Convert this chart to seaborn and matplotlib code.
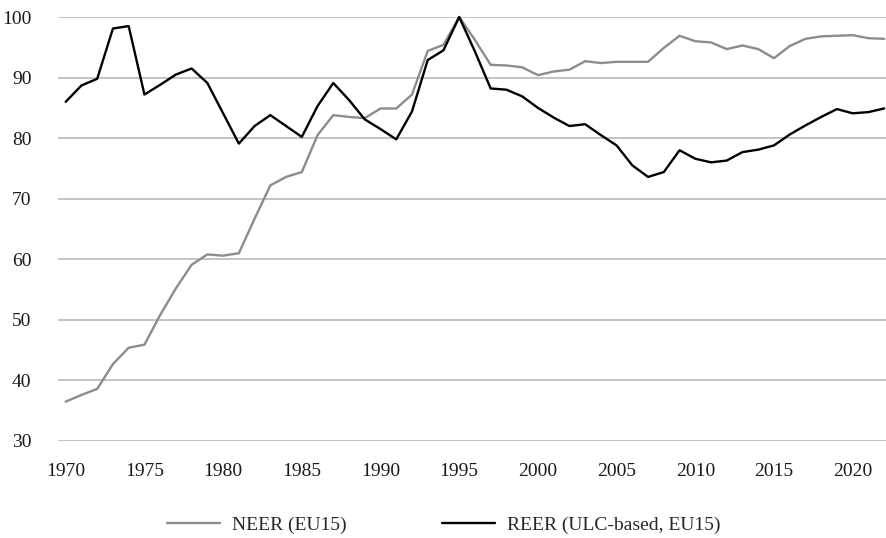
import numpy as np
import pandas as pd
import seaborn as sns
import matplotlib.pyplot as plt

years = list(range(1970, 2023))

neer = [36.5, 37.6, 38.6, 42.7, 45.4, 45.9, 50.8, 55.2, 59.1, 60.8,
        60.6, 61.0, 66.7, 72.2, 73.6, 74.4, 80.5, 83.8, 83.5, 83.3,
        84.9, 84.9, 87.2, 94.4, 95.4, 100.0, 96.2, 92.1, 92.0, 91.7,
        90.4, 91.0, 91.3, 92.7, 92.4, 92.6, 92.6, 92.6, 94.9, 96.9,
        96.0, 95.8, 94.7, 95.3, 94.7, 93.2, 95.2, 96.4, 96.8, 96.9,
        97.0, 96.5, 96.4]

reer = [86.0, 88.7, 89.8, 98.1, 98.5, 87.2, 88.8, 90.5, 91.5, 89.1,
        84.1, 79.1, 82.0, 83.8, 82.0, 80.2, 85.3, 89.1, 86.3, 83.1,
        81.5, 79.8, 84.4, 92.9, 94.5, 100.0, 94.3, 88.2, 88.0, 86.9,
        85.0, 83.4, 82.0, 82.3, 80.5, 78.8, 75.5, 73.6, 74.4, 78.0,
        76.6, 76.0, 76.3, 77.7, 78.1, 78.8, 80.6, 82.1, 83.5, 84.8,
        84.1, 84.3, 84.9]

series_names = ["NEER (EU15)", "REER (ULC-based, EU15)"]
series_colors = ["#8c8c8c", "#000000"]

df = pd.DataFrame({
    "year": years * 2,
    "value": neer + reer,
    "series": [series_names[0]] * len(years) + [series_names[1]] * len(years),
})

sns.set_style("white")
plt.rcParams['font.family'] = ['Liberation Serif', 'DejaVu Serif']

fig = plt.figure(figsize=(8.87, 5.38), dpi=100)
ax = fig.add_axes([0.0654, 0.1803, 0.9346, 0.7881])

sns.lineplot(data=df, x="year", y="value", hue="series",
             palette=dict(zip(series_names, series_colors)),
             linewidth=1.7, ax=ax, legend=False, clip_on=False)

ax.set_xlim(1969.51, 2022.18)
ax.set_ylim(30, 100)
ax.set_xticks(range(1970, 2021, 5))
ax.set_yticks(range(30, 101, 10))
ax.yaxis.grid(True, color="#b3b3b3", linewidth=1.1)
ax.set_axisbelow(True)
ax.set_xlabel("")
ax.set_ylabel("")
sns.despine(ax=ax, left=True, bottom=True)
ax.tick_params(axis="both", length=0, labelsize=14, colors="#1a1a1a")
ax.tick_params(axis="y", pad=19)
ax.tick_params(axis="x", pad=16)

handles = [plt.Line2D([], [], color=c, linewidth=1.7) for c in series_colors]
fig.legend(handles, series_names, loc="center", bbox_to_anchor=(0.5, 0.024),
           ncol=2, frameon=False, fontsize=14, handlelength=2.75,
           handletextpad=0.6, columnspacing=4.9)

fig.savefig("out.png", dpi=100)
